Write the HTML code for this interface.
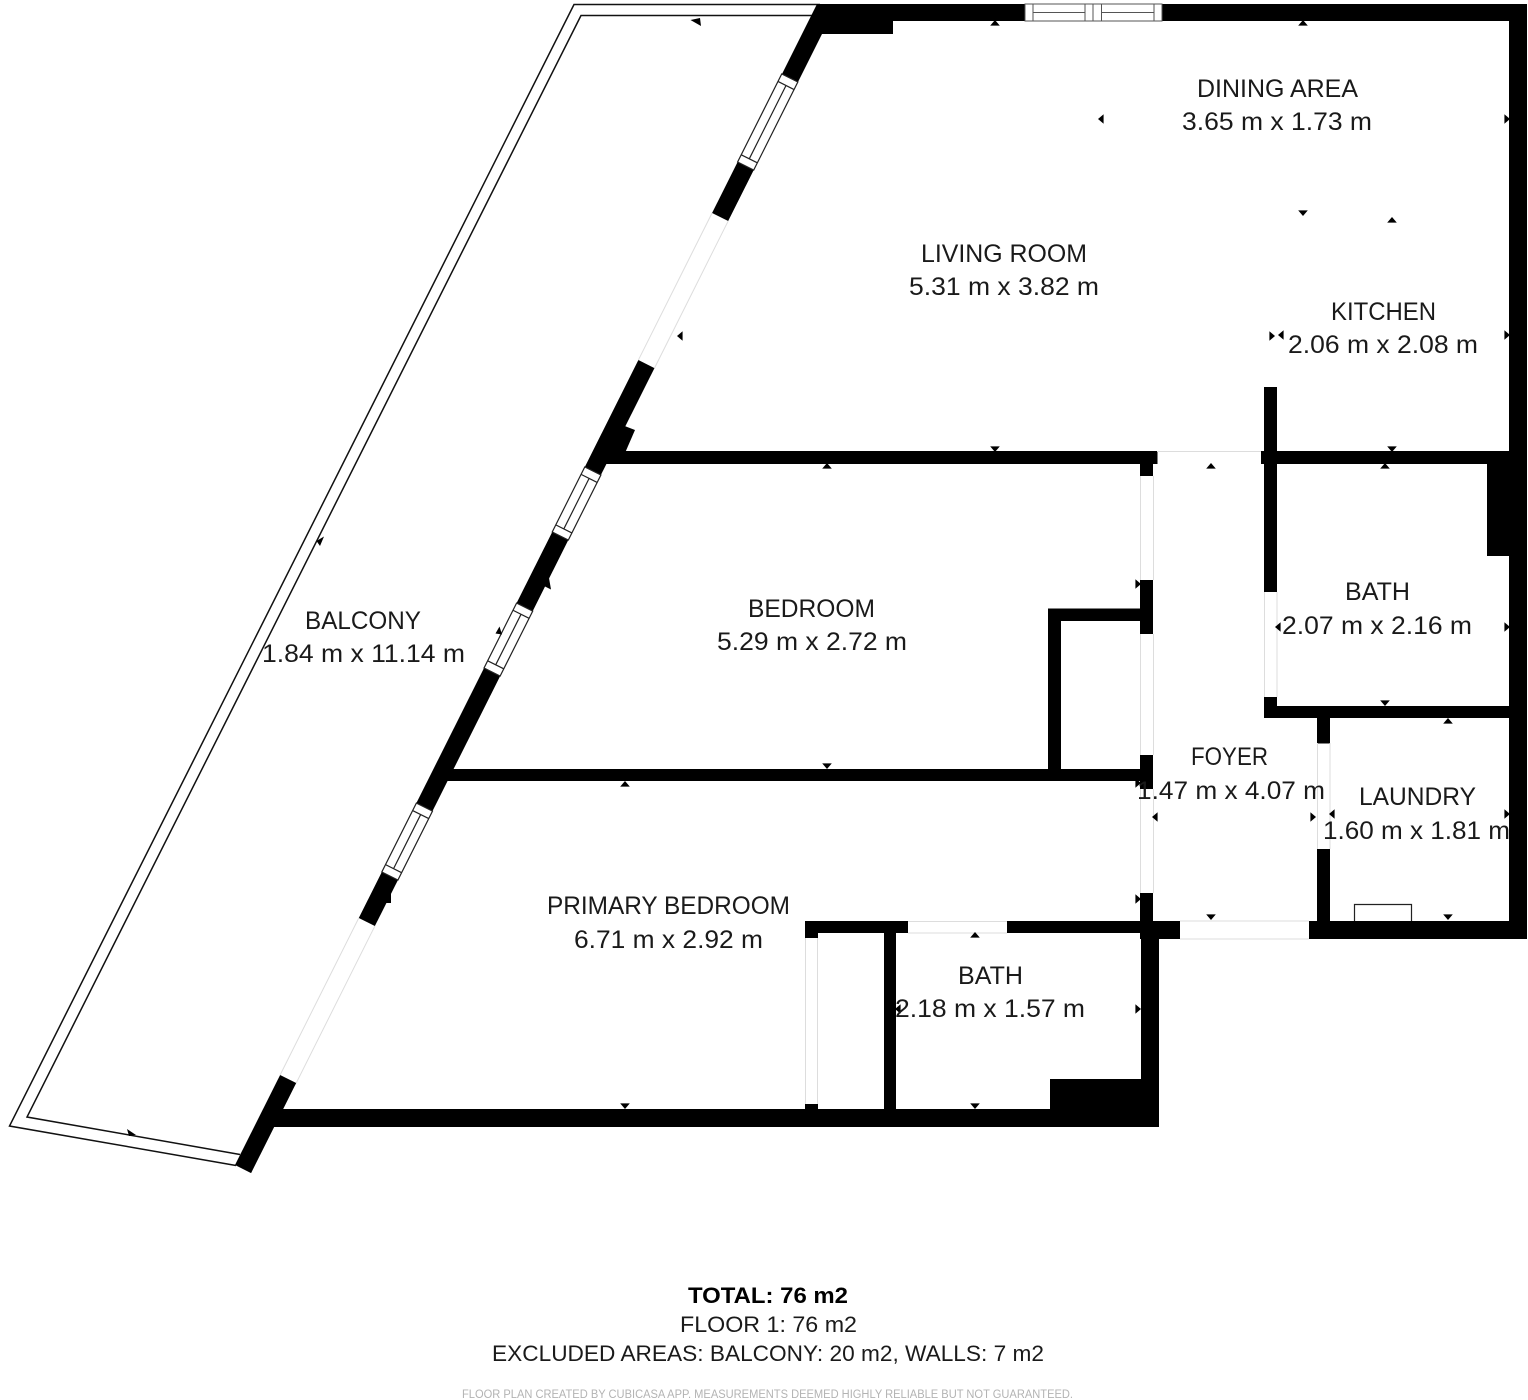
<!DOCTYPE html>
<html>
<head>
<meta charset="utf-8">
<style>
html,body{margin:0;padding:0;background:#fff}
svg{display:block}
text{font-family:"Liberation Sans",sans-serif;fill:#1a1a1a;text-anchor:start}
.r{font-size:25px}
.t{font-size:22px}
</style>
</head>
<body>
<svg width="1528" height="1400" viewBox="0 0 1528 1400" xmlns="http://www.w3.org/2000/svg">
<defs>
<path id="m" d="M-4.8 2.6L4.8 2.6L0-3Z" fill="#000"/>
</defs>
<rect width="1528" height="1400" fill="#fff"/>

<!-- balcony -->
<polyline points="820,4.5 574,4.5 9.5,1126 236,1165.5" fill="none" stroke="#111" stroke-width="1.5"/>
<polyline points="812,15.5 581,15.5 27,1117 240,1154.5" fill="none" stroke="#111" stroke-width="1.5"/>

<!-- top wall, block, upper slanted segment -->
<polygon points="817,4 1527,4 1527,21 893,21 893,34 822,34 798,82 782,74" fill="#000"/>
<!-- bump on slanted wall -->
<polygon points="622,425 635,430 625,453 610,453" fill="#000"/>

<!-- slanted wall in local coordinates -->
<g transform="matrix(.448 -.894 .894 .448 235 1165)">
  <rect x="0" y="0" width="100.7" height="18" fill="#000"/>
  <rect x="276.3" y="0" width="51.4" height="18" fill="#000"/>
  <rect x="404.9" y="0" width="151" height="18" fill="#000"/>
  <rect x="628.6" y="0" width="79.5" height="18" fill="#000"/>
  <rect x="780.8" y="0" width="119.6" height="18" fill="#000"/>
  <rect x="1064.9" y="0" width="57" height="18" fill="#000"/>
  <!-- doors -->
  <g stroke="#ddd" stroke-width="1" fill="none">
    <path d="M100.7 0H276.3M100.7 18H276.3M900.4 0H1064.9M900.4 18H1064.9"/>
  </g>
  <!-- windows -->
  <g fill="#fff" stroke="#222" stroke-width="1.2">
    <rect x="327.7" y="0" width="77.2" height="18"/>
    <path d="M336 0V18M396.5 0V18M336 9H396.5"/>
    <rect x="555.9" y="0" width="72.7" height="18"/>
    <path d="M564 0V18M620.5 0V18M564 9H620.5"/>
    <rect x="708.1" y="0" width="72.7" height="18"/>
    <path d="M716 0V18M772.5 0V18M716 9H772.5"/>
    <rect x="1121.9" y="0" width="98.5" height="18"/>
    <path d="M1130 0V18M1212 0V18M1130 9H1212"/>
  </g>
</g>

<!-- top window -->
<g fill="#fff" stroke="#555" stroke-width="1">
  <rect x="1025" y="4" width="137" height="17"/>
  <path d="M1033 4V21M1085 4V21M1093 4V21M1101.5 4V21M1154 4V21M1033 12.5H1085M1101.5 12.5H1154"/>
</g>

<g fill="#000">
  <!-- right wall -->
  <rect x="1509" y="4" width="18" height="935"/>
  <!-- living/bedroom wall -->
  <rect x="600" y="451" width="557.5" height="13"/>
  <rect x="1140" y="451" width="13" height="25"/>
  <!-- kitchen/bath -->
  <rect x="1261" y="451" width="248" height="13"/>
  <rect x="1264" y="387" width="13" height="205"/>
  <rect x="1487" y="464" width="22" height="92"/>
  <!-- foyer left pieces -->
  <rect x="1140" y="580" width="13" height="54"/>
  <rect x="1048" y="608.5" width="92" height="12.5"/>
  <rect x="1048" y="608.5" width="13" height="165"/>
  <rect x="445" y="769" width="708" height="12"/>
  <rect x="1140" y="755" width="13" height="34"/>
  <rect x="1140" y="893" width="13" height="40"/>
  <!-- bath/laundry wall -->
  <rect x="1264" y="706" width="245" height="12"/>
  <rect x="1264" y="697" width="13" height="21"/>
  <rect x="1317" y="718" width="13" height="25.5"/>
  <rect x="1317" y="849" width="13" height="72"/>
  <!-- bottom of foyer -->
  <rect x="1309" y="921" width="218" height="18"/>
  <rect x="1140" y="921" width="40" height="18"/>
  <!-- primary bath walls -->
  <rect x="1007" y="921" width="140" height="12"/>
  <rect x="805" y="921" width="103" height="12"/>
  <rect x="805" y="921" width="13" height="17"/>
  <rect x="805" y="1104" width="13" height="8"/>
  <rect x="884" y="921" width="12" height="190"/>
  <rect x="1141" y="933" width="18" height="194"/>
  <rect x="1050" y="1079" width="92" height="32"/>
  <rect x="268" y="1109" width="891" height="18"/>
</g>

<!-- door outlines -->
<g stroke="#ddd" stroke-width="1" fill="none">
  <path d="M1157 451.5H1261"/>
  <path d="M1140.5 476V580M1153.5 476V580M1140.5 634V755M1153.5 634V755M1140.5 789V893M1153.5 789V893"/>
  <path d="M1264.5 592V697M1277 592V697"/>
  <path d="M1317.5 743V849M1330 743V849"/>
  <path d="M1180 921H1309M1180 939H1309"/>
  <path d="M908 921.5H1007M908 933H1007"/>
  <path d="M805.5 938V1104M817.5 938V1104"/>
</g>

<!-- washer -->
<path d="M1354.5 921V904.5H1411.5V921" fill="none" stroke="#222" stroke-width="1.2"/>

<!-- tilted markers -->
<g fill="#000">
  <polygon points="690.5,20 700,18 701,26"/>
  <polygon points="127,1129 136,1135 129,1136"/>
  <polygon points="324,536.5 316.5,541 320,546"/>
  <polygon points="549,578 551,589.5 544,586"/>
  <polygon points="499.5,626.5 502,634.5 495.5,633.5"/>
  <polygon points="386,903 391,893 391,903"/>
</g>

<!-- markers -->
<use href="#m" transform="translate(995,23)"/>
<use href="#m" transform="translate(1303,23)"/>
<use href="#m" transform="translate(1101,119) rotate(-90)"/>
<use href="#m" transform="translate(1507,119) rotate(90)"/>
<use href="#m" transform="translate(1303,213) rotate(180)"/>
<use href="#m" transform="translate(1392,220)"/>
<use href="#m" transform="translate(1272,336) rotate(90)"/>
<use href="#m" transform="translate(1281,335) rotate(-90)"/>
<use href="#m" transform="translate(1507,335) rotate(90)"/>
<use href="#m" transform="translate(1392,449) rotate(180)"/>
<use href="#m" transform="translate(1385,466)"/>
<use href="#m" transform="translate(995,449) rotate(180)"/>
<use href="#m" transform="translate(827,466)"/>
<use href="#m" transform="translate(1211,466)"/>
<use href="#m" transform="translate(680,336) rotate(-90)"/>
<use href="#m" transform="translate(1138,584) rotate(90)"/>
<use href="#m" transform="translate(1278,627) rotate(-90)"/>
<use href="#m" transform="translate(1507,627) rotate(90)"/>
<use href="#m" transform="translate(1385,703) rotate(180)"/>
<use href="#m" transform="translate(1448,721)"/>
<use href="#m" transform="translate(1313,817) rotate(90)"/>
<use href="#m" transform="translate(1332,814) rotate(-90)"/>
<use href="#m" transform="translate(1507,814) rotate(90)"/>
<use href="#m" transform="translate(1155,817) rotate(-90)"/>
<use href="#m" transform="translate(1138,783) rotate(90)"/>
<use href="#m" transform="translate(1138,899) rotate(90)"/>
<use href="#m" transform="translate(1211,917) rotate(180)"/>
<use href="#m" transform="translate(1448,917) rotate(180)"/>
<use href="#m" transform="translate(975,935)"/>
<use href="#m" transform="translate(1138,1009) rotate(90)"/>
<use href="#m" transform="translate(898,1009) rotate(-90)"/>
<use href="#m" transform="translate(975,1106) rotate(180)"/>
<use href="#m" transform="translate(625,1106) rotate(180)"/>
<use href="#m" transform="translate(827,766) rotate(180)"/>
<use href="#m" transform="translate(625,784)"/>

<!-- labels -->
<g class="r">
<text class="r" x="1197" y="97" textLength="161" lengthAdjust="spacingAndGlyphs">DINING AREA</text>
<text class="r" x="1182" y="130" textLength="190" lengthAdjust="spacingAndGlyphs">3.65 m x 1.73 m</text>
<text class="r" x="921" y="262" textLength="166" lengthAdjust="spacingAndGlyphs">LIVING ROOM</text>
<text class="r" x="909" y="295" textLength="190" lengthAdjust="spacingAndGlyphs">5.31 m x 3.82 m</text>
<text class="r" x="1331" y="320" textLength="105" lengthAdjust="spacingAndGlyphs">KITCHEN</text>
<text class="r" x="1288" y="353" textLength="190" lengthAdjust="spacingAndGlyphs">2.06 m x 2.08 m</text>
<text class="r" x="305" y="629" textLength="116" lengthAdjust="spacingAndGlyphs">BALCONY</text>
<text class="r" x="262" y="662" textLength="203" lengthAdjust="spacingAndGlyphs">1.84 m x 11.14 m</text>
<text class="r" x="748" y="617" textLength="127" lengthAdjust="spacingAndGlyphs">BEDROOM</text>
<text class="r" x="717" y="650" textLength="190" lengthAdjust="spacingAndGlyphs">5.29 m x 2.72 m</text>
<text class="r" x="1345" y="600" textLength="65" lengthAdjust="spacingAndGlyphs">BATH</text>
<text class="r" x="1282" y="634" textLength="190" lengthAdjust="spacingAndGlyphs">2.07 m x 2.16 m</text>
<text class="r" x="1191" y="765" textLength="77" lengthAdjust="spacingAndGlyphs">FOYER</text>
<text class="r" x="1137" y="799" textLength="188" lengthAdjust="spacingAndGlyphs">1.47 m x 4.07 m</text>
<text class="r" x="1359" y="805" textLength="117" lengthAdjust="spacingAndGlyphs">LAUNDRY</text>
<text class="r" x="1323" y="839" textLength="187" lengthAdjust="spacingAndGlyphs">1.60 m x 1.81 m</text>
<text class="r" x="547" y="914" textLength="243" lengthAdjust="spacingAndGlyphs">PRIMARY BEDROOM</text>
<text class="r" x="574" y="948" textLength="189" lengthAdjust="spacingAndGlyphs">6.71 m x 2.92 m</text>
<text class="r" x="958" y="984" textLength="65" lengthAdjust="spacingAndGlyphs">BATH</text>
<text class="r" x="895" y="1017" textLength="190" lengthAdjust="spacingAndGlyphs">2.18 m x 1.57 m</text>
</g>

<text class="t" x="688" y="1303" font-weight="700" textLength="160" lengthAdjust="spacingAndGlyphs" style="font-weight:700;fill:#000">TOTAL: 76 m2</text>
<text class="t" x="680" y="1332" textLength="177" lengthAdjust="spacingAndGlyphs">FLOOR 1: 76 m2</text>
<text class="t" x="492" y="1361" textLength="552" lengthAdjust="spacingAndGlyphs">EXCLUDED AREAS: BALCONY: 20 m2, WALLS: 7 m2</text>
<text x="462" y="1398" textLength="611" lengthAdjust="spacingAndGlyphs" style="font-size:11.5px;fill:#b3b3b3">FLOOR PLAN CREATED BY CUBICASA APP. MEASUREMENTS DEEMED HIGHLY RELIABLE BUT NOT GUARANTEED.</text>
</svg>
</body>
</html>
